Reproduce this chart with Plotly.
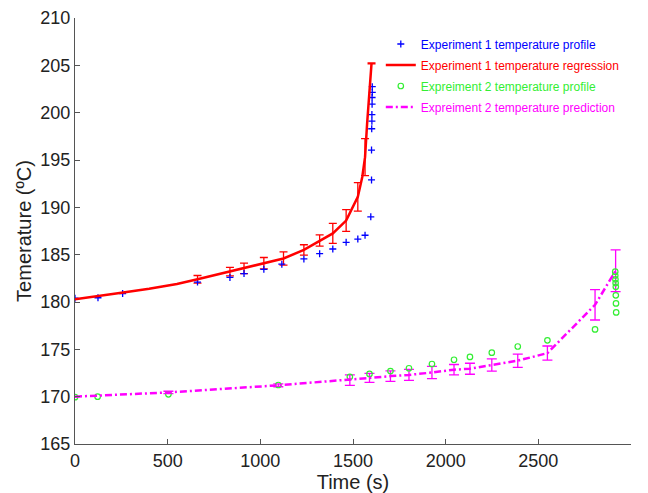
import plotly.graph_objects as go

# Experiment 1: measured temperature profile
exp1_t = [0, 124, 257, 661, 836, 912, 1019, 1116, 1235, 1320, 1391, 1463, 1526, 1565,
          1596, 1600, 1600, 1601, 1602, 1602, 1603, 1603, 1604, 1604]
exp1_T = [180.4, 180.45, 180.9, 182.1, 182.6, 183.0, 183.45, 184.0, 184.55, 185.1, 185.6, 186.3,
          186.65, 187.05, 189.0, 192.9, 196.05, 198.3, 199.1, 199.8, 200.9, 201.6, 202.15, 202.75]

# Experiment 1: regression curve
reg_t = [0, 125, 260, 400, 550, 661, 836, 912, 1019, 1125, 1235, 1320, 1391, 1463,
         1495, 1526, 1550, 1565, 1576, 1585, 1593, 1600]
reg_T = [180.3, 180.6, 181.0, 181.4, 181.9, 182.4, 183.2, 183.55, 184.1, 184.6, 185.5, 186.5,
         187.25, 188.6, 189.8, 191.1, 193.2, 195.3, 198.8, 201.6, 203.8, 205.2]

# Experiment 1: regression error bars
reg_bar_t = [661, 836, 912, 1019, 1125, 1235, 1320, 1391, 1463, 1526, 1565, 1600]
reg_bar_T = [182.4, 183.2, 183.55, 184.1, 184.6, 185.5, 186.5, 187.25, 188.6, 191.1, 195.3, 205.2]
reg_bar_err = [0.4, 0.45, 0.55, 0.6, 0.7, 0.55, 0.6, 1.05, 1.15, 1.5, 1.95, 0.05]

# Experiment 2: measured temperature profile
exp2_t = [0, 122, 504, 1097, 1483, 1589, 1702, 1802, 1926, 2045, 2131, 2249, 2389, 2549,
          2806, 2915, 2915, 2916, 2917, 2918, 2918, 2919, 2920]
exp2_T = [169.95, 170.0, 170.25, 171.23, 172.1, 172.4, 172.7, 173.0, 173.45, 173.9, 174.2,
          174.65, 175.3, 175.95, 177.1, 183.2, 182.8, 182.4, 182.0, 181.6, 180.7, 179.85, 178.9]

# Experiment 2: predicted temperature with error bars
pred_t = [0, 504, 1097, 1483, 1589, 1702, 1802, 1926, 2045, 2131, 2249, 2389, 2549, 2806, 2917]
pred_T = [170.0, 170.45, 171.2, 171.75, 171.98, 172.17, 172.3, 172.55, 172.85, 172.95,
          173.35, 173.8, 174.6, 179.7, 183.3]
pred_err = [0, 0.12, 0.15, 0.55, 0.48, 0.55, 0.58, 0.65, 0.55, 0.58, 0.65, 0.7, 0.75, 1.6, 2.2]

x_ticks = [0, 500, 1000, 1500, 2000, 2500, 3000]
y_ticks = [165, 170, 175, 180, 185, 190, 195, 200, 205, 210]

BLUE, RED, GREEN, MAGENTA = "#0000ff", "#ff0000", "#33ee33", "#ff00ff"
FONT = "Liberation Sans, Arial"


def colored(text, color):
    return f"<span style='color:{color}'>{text}</span>"


fig = go.Figure()

fig.add_trace(go.Scatter(
    x=reg_bar_t, y=reg_bar_T, mode="markers", showlegend=False, hoverinfo="skip",
    marker=dict(size=1, color=RED, opacity=0),
    error_y=dict(type="data", array=reg_bar_err, color=RED, thickness=1.3, width=4),
))
fig.add_trace(go.Scatter(
    x=pred_t, y=pred_T, mode="lines", showlegend=False, hoverinfo="skip",
    line=dict(color=MAGENTA, width=0),
    error_y=dict(type="data", array=pred_err, color=MAGENTA, thickness=1.3, width=5),
))

fig.add_trace(go.Scatter(
    x=exp1_t, y=exp1_T, mode="markers", legendgroup="g1",
    name=colored("Experiment 1 temperature profile", BLUE),
    marker=dict(symbol="cross-thin", size=5, color=BLUE, line=dict(color=BLUE, width=1.3)),
))
fig.add_trace(go.Scatter(
    x=reg_t, y=reg_T, mode="lines", legendgroup="g2",
    name=colored("Experiment 1 temperature regression", RED),
    line=dict(color=RED, width=2.5),
))
fig.add_trace(go.Scatter(
    x=exp2_t, y=exp2_T, mode="markers", legendgroup="g3",
    name=colored("Expreiment 2 temperature profile", GREEN),
    marker=dict(symbol="circle-open", size=5.5, color=GREEN, line=dict(color=GREEN, width=1.2)),
))
fig.add_trace(go.Scatter(
    x=pred_t, y=pred_T, mode="lines", legendgroup="g4",
    name=colored("Expreiment 2 temperature prediction", MAGENTA),
    line=dict(color=MAGENTA, width=2.5, dash="7px,3px,2px,3px"),
))

axis_common = dict(
    showline=True, linecolor="#555555", linewidth=1, mirror=False,
    showgrid=False, zeroline=False, automargin=False,
    ticks="inside", ticklen=5, tickcolor="#555555",
    tickfont=dict(family=FONT, size=18, color="#222222"),
)

fig.update_layout(
    width=648, height=493,
    margin=dict(l=75, r=17, t=18, b=49),
    paper_bgcolor="white", plot_bgcolor="white",
    font=dict(family=FONT, color="#222222"),
    xaxis=dict(range=[0, 3000], tickvals=x_ticks,
               title=dict(text="Time (s)", font=dict(size=20)),
               **axis_common),
    yaxis=dict(range=[165, 210], tickvals=y_ticks,
               title=dict(text="Temerature (ºC)", font=dict(size=20), standoff=3),
               **axis_common),
    legend=dict(x=0.55, y=0.973, xanchor="left", yanchor="top",
                bgcolor="rgba(0,0,0,0)", borderwidth=0, tracegroupgap=2,
                font=dict(family=FONT, size=12)),
)

fig.write_html("out.html")
